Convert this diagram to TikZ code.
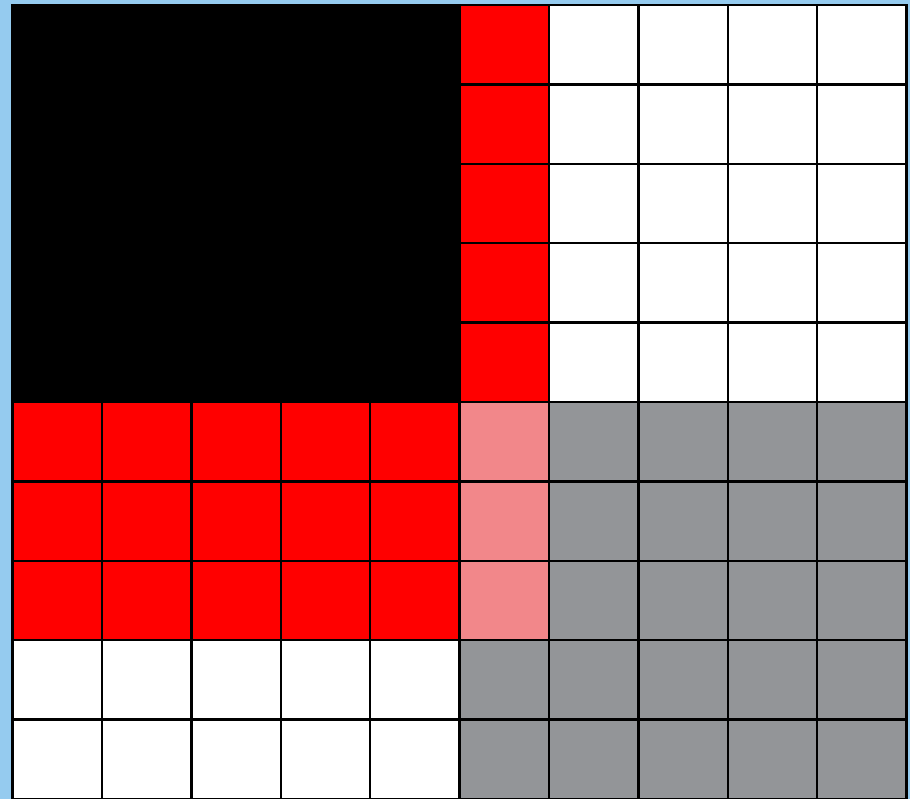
\documentclass[tikz,border=0pt]{standalone}
\definecolor{bgblue}{HTML}{95CBEF}
\definecolor{cellred}{HTML}{FF0000}
\definecolor{cellpink}{HTML}{F2878A}
\definecolor{cellgray}{HTML}{939598}
\begin{document}
\begin{tikzpicture}[x=1pt,y=-1pt,
  gridline/.style={line width=2.4pt,draw=black,line cap=rect},
]
\useasboundingbox (0,0) rectangle (910,799);
\fill[bgblue] (0,0) rectangle (910,799);
\def\xo{12.5}\def\yo{5}\def\dx{89.4}\def\dy{79.4}
\foreach \r in {1,...,10}{
  \foreach \c in {1,...,10}{
    \pgfmathsetmacro{\colname}{%
      (\r<=5 && \c<=5) ? "black" :
      ((\r<=5 && \c==6) ? "cellred" :
      ((\r<=5) ? "white" :
      ((\r<=8 && \c<=5) ? "cellred" :
      ((\r<=8 && \c==6) ? "cellpink" :
      ((\c<=5) ? "white" : "cellgray")))))}
    \fill[\colname] ({\xo+(\c-1)*\dx},{\yo+(\r-1)*\dy}) rectangle ({\xo+\c*\dx},{\yo+\r*\dy});
  }
}
\foreach \i in {0,...,10}{
  \draw[gridline] ({\xo+\i*\dx},{\yo}) -- ({\xo+\i*\dx},{\yo+10*\dy});
  \draw[gridline] ({\xo},{\yo+\i*\dy}) -- ({\xo+10*\dx},{\yo+\i*\dy});
}
\end{tikzpicture}
\end{document}
